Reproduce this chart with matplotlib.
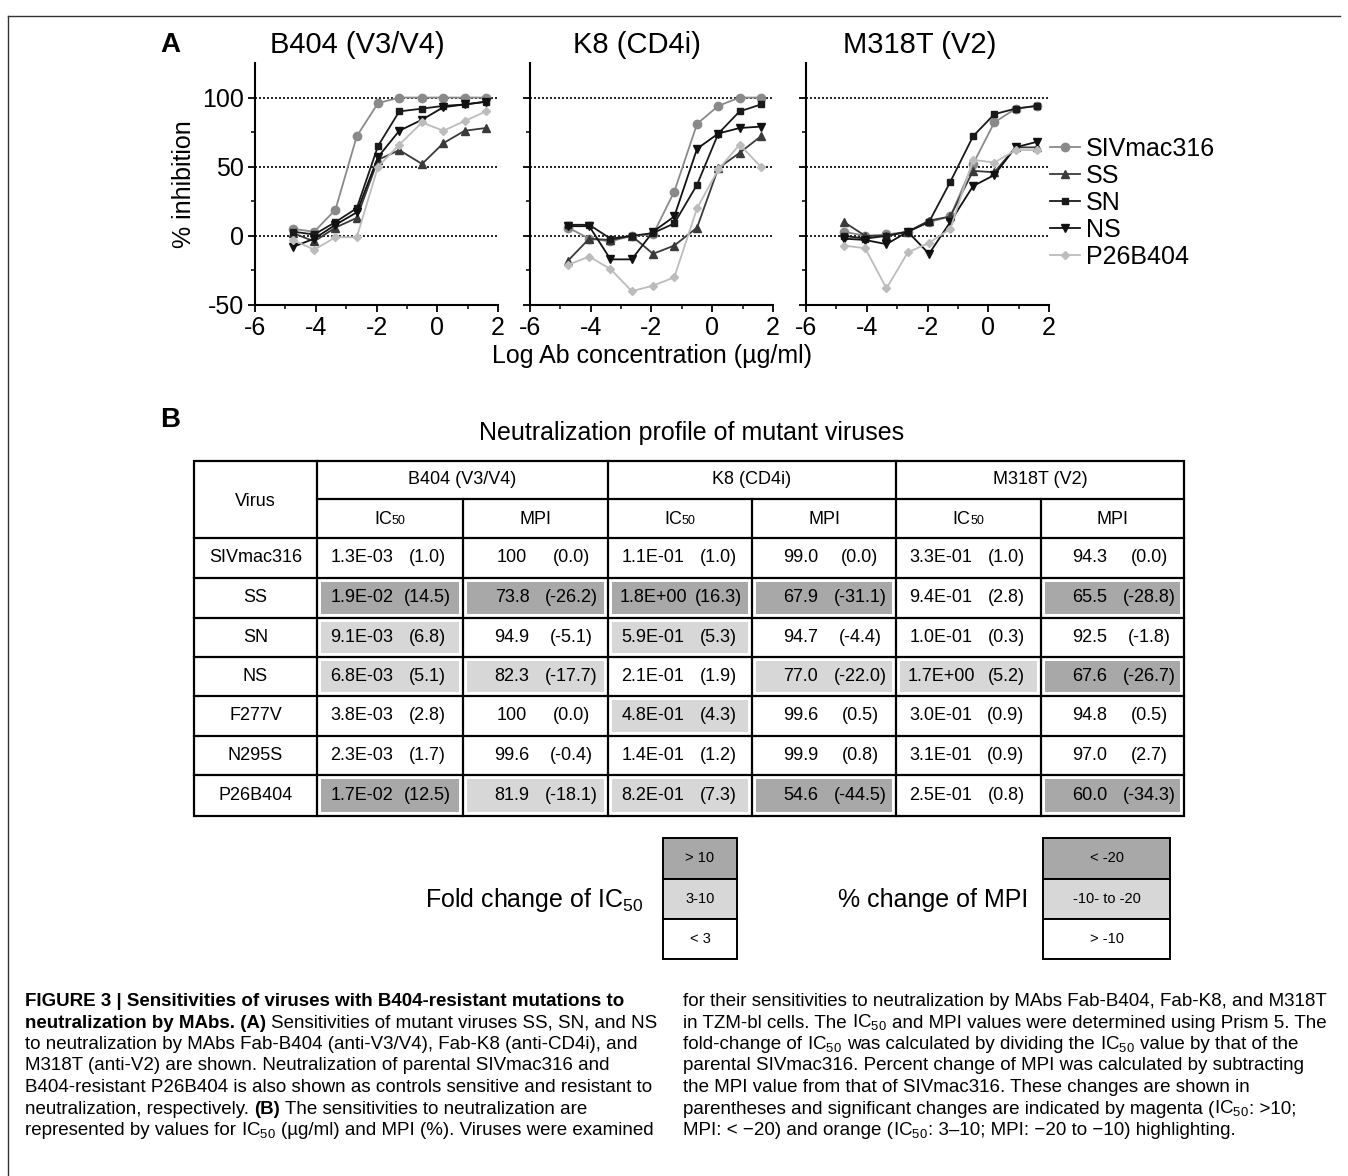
import matplotlib
matplotlib.use("Agg")
import matplotlib.pyplot as plt
from matplotlib.patches import Rectangle

plt.rcParams['font.family'] = ['Liberation Sans', 'DejaVu Sans']
plt.rcParams['mathtext.fontset'] = 'custom'
plt.rcParams['mathtext.rm'] = 'Liberation Sans'
plt.rcParams['mathtext.it'] = 'Liberation Sans:italic'
plt.rcParams['mathtext.bf'] = 'Liberation Sans:bold'
plt.rcParams['axes.unicode_minus'] = False

# -----------------------
# DATA: panel A (neutralization curves)
# -----------------------

log_conc = [-4.75, -4.05, -3.35, -2.65, -1.95, -1.25, -0.5, 0.2, 0.9, 1.6]
series_names = ["SIVmac316", "SS", "SN", "NS", "P26B404"]
panel_titles = ["B404 (V3/V4)", "K8 (CD4i)", "M318T (V2)"]

b404_siv = [5, 3, 19, 72, 96, 100, 100, 100, 100, 100]
b404_ss = [2, -4, 6, 13, 55, 62, 52, 67, 76, 78]
b404_sn = [3, 1, 10, 20, 65, 90, 92, 94, 95, 97]
b404_ns = [-8, -2, 8, 17, 57, 76, 84, 93, 95, 97]
b404_p26 = [-3, -10, -1, -1, 50, 66, 82, 76, 83, 90]

k8_siv = [6, -2, -4, 0, 1, 32, 81, 94, 100, 100]
k8_ss = [-18, -2, -3, 0, -13, -7, 6, 49, 60, 72]
k8_sn = [8, 8, -2, 0, 2, 9, 37, 74, 90, 95]
k8_ns = [7, 7, -17, -17, 3, 14, 63, 74, 78, 79]
k8_p26 = [-21, -15, -24, -40, -36, -30, 20, 48, 66, 50]

m318_siv = [3, 0, 1, 3, 10, 14, 52, 82, 92, 94]
m318_ss = [10, 0, 0, 3, 11, 14, 47, 46, 64, 64]
m318_sn = [0, -2, 0, 3, 10, 39, 72, 88, 92, 94]
m318_ns = [-2, -3, -6, 3, -13, 10, 36, 44, 64, 68]
m318_p26 = [-7, -9, -38, -12, -5, 5, 55, 53, 62, 62]

# -----------------------
# DATA: panel B (table)
# -----------------------

viruses = ["SIVmac316", "SS", "SN", "NS", "F277V", "N295S", "P26B404"]
antibodies = ["B404 (V3/V4)", "K8 (CD4i)", "M318T (V2)"]

b404_ic50 = ["1.3E-03", "1.9E-02", "9.1E-03", "6.8E-03", "3.8E-03", "2.3E-03", "1.7E-02"]
b404_fold = ["1.0", "14.5", "6.8", "5.1", "2.8", "1.7", "12.5"]
b404_mpi = ["100", "73.8", "94.9", "82.3", "100", "99.6", "81.9"]
b404_mpi_chg = ["0.0", "-26.2", "-5.1", "-17.7", "0.0", "-0.4", "-18.1"]
k8_ic50 = ["1.1E-01", "1.8E+00", "5.9E-01", "2.1E-01", "4.8E-01", "1.4E-01", "8.2E-01"]
k8_fold = ["1.0", "16.3", "5.3", "1.9", "4.3", "1.2", "7.3"]
k8_mpi = ["99.0", "67.9", "94.7", "77.0", "99.6", "99.9", "54.6"]
k8_mpi_chg = ["0.0", "-31.1", "-4.4", "-22.0", "0.5", "0.8", "-44.5"]
m318_ic50 = ["3.3E-01", "9.4E-01", "1.0E-01", "1.7E+00", "3.0E-01", "3.1E-01", "2.5E-01"]
m318_fold = ["1.0", "2.8", "0.3", "5.2", "0.9", "0.9", "0.8"]
m318_mpi = ["94.3", "65.5", "92.5", "67.6", "94.8", "97.0", "60.0"]
m318_mpi_chg = ["0.0", "-28.8", "-1.8", "-26.7", "0.5", "2.7", "-34.3"]

# highlight level: 0 none, 1 light, 2 dark
b404_ic50_hl = [0, 2, 1, 1, 0, 0, 2]
b404_mpi_hl = [0, 2, 0, 1, 0, 0, 1]
k8_ic50_hl = [0, 2, 1, 0, 1, 0, 1]
k8_mpi_hl = [0, 2, 0, 1, 0, 0, 2]
m318_ic50_hl = [0, 0, 0, 1, 0, 0, 0]
m318_mpi_hl = [0, 2, 0, 2, 0, 0, 2]

ic50_key = ["> 10", "3-10", "< 3"]
mpi_key = ["< -20", "-10- to -20", "> -10"]

# -----------------------
# FIGURE SETUP
# -----------------------

W, H = 1348, 1176
fig = plt.figure(figsize=(W / 100, H / 100), dpi=100)
renderer = fig.canvas.get_renderer()


def px_rect(left, top, width, height):
    return [left / W, 1 - (top + height) / H, width / W, height / H]


bg = fig.add_axes([0, 0, 1, 1])
bg.set_xlim(0, W)
bg.set_ylim(H, 0)
bg.axis("off")

shade = {1: "#d7d7d7", 2: "#a8a8a8"}


def rich(x, y, segs, size, ha="left"):
    items = []
    for s, kw in segs:
        gap = 0.0
        opts = dict(fontsize=size, va="baseline", ha="left")
        opts.update(kw)
        if s.startswith(" "):
            gap = 0.278 * opts["fontsize"] * 100 / 72
            s = s.lstrip(" ")
        t = bg.text(0, y, s, **opts)
        w = t.get_window_extent(renderer).width
        items.append((t, gap, w))
    total = sum(g + w for _, g, w in items)
    cx = x - total / 2 if ha == "center" else x
    for t, g, w in items:
        cx += g
        t.set_x(cx)
        cx += w


# frame of the scanned figure
bg.plot([8, 1340], [16, 16], color="#333333", lw=1.0)
bg.plot([8, 8], [16, H], color="#333333", lw=1.0)

# -----------------------
# PANEL A
# -----------------------

panel_data = [
    [b404_siv, b404_ss, b404_sn, b404_ns, b404_p26],
    [k8_siv, k8_ss, k8_sn, k8_ns, k8_p26],
    [m318_siv, m318_ss, m318_sn, m318_ns, m318_p26],
]
styles = [
    dict(color="#8a8a8a", marker="o", ms=6),
    dict(color="#3a3a3a", marker="^", ms=5.5),
    dict(color="#1a1a1a", marker="s", ms=5),
    dict(color="#111111", marker="v", ms=5.5),
    dict(color="#bcbcbc", marker="D", ms=4.5),
]
panel_lefts = [255, 530, 806]
title_x = [357, 637, 920]

axes = []
for i, left in enumerate(panel_lefts):
    ax = fig.add_axes(px_rect(left, 63, 243, 242))
    ax.set_xlim(-6, 2)
    ax.set_ylim(-50, 125)
    for yv in (0, 50, 100):
        ax.axhline(yv, color="black", ls=(0, (1.2, 1.2)), lw=1.2, zorder=1)
    for vals, name, st in zip(panel_data[i], series_names, styles):
        ax.plot(log_conc, vals, lw=1.3, label=name, zorder=3, **st)
    for side in ("top", "right"):
        ax.spines[side].set_visible(False)
    for side in ("left", "bottom"):
        ax.spines[side].set_linewidth(1.5)
    ax.set_xticks([-6, -4, -2, 0, 2])
    ax.set_xticks([-5, -3, -1, 1], minor=True)
    ax.set_yticks([-50, 0, 50, 100])
    ax.set_yticks([-25, 25, 75], minor=True)
    ax.tick_params(which="major", direction="out", length=5, width=1.3,
                   labelsize=18, pad=3)
    ax.tick_params(which="minor", direction="out", length=3, width=1.1)
    if i > 0:
        ax.tick_params(labelleft=False)
    fig.text(title_x[i] / W, 1 - 45 / H, panel_titles[i], fontsize=21,
             ha="center", va="center")
    axes.append(ax)

axes[0].set_ylabel("% inhibition", fontsize=18, labelpad=4)
fig.text(652 / W, 1 - 356 / H, "Log Ab concentration (\u00b5g/ml)",
         fontsize=18, ha="center", va="center")

handles, labels = axes[2].get_legend_handles_labels()
fig.legend(handles, labels, loc="upper left",
           bbox_to_anchor=(1050 / W, 1 - 137 / H), frameon=False,
           fontsize=18, handlelength=1.2, handletextpad=0.25,
           labelspacing=0.12, borderpad=0, borderaxespad=0)

bg.text(170, 45, "A", fontsize=20, fontweight="bold", ha="center", va="center")
bg.text(170, 420, "B", fontsize=20, fontweight="bold", ha="center", va="center")

# -----------------------
# PANEL B: TABLE
# -----------------------

bg.text(692, 433, "Neutralization profile of mutant viruses", fontsize=18,
        ha="center", va="center")

col_x = [194, 317, 463, 608, 752, 896, 1041, 1184]
row_y = [461, 499, 538, 578, 618, 657, 696, 736, 775, 816]
tsize = 13

columns = [
    (b404_ic50, b404_fold, b404_ic50_hl, "ic"),
    (b404_mpi, b404_mpi_chg, b404_mpi_hl, "mpi"),
    (k8_ic50, k8_fold, k8_ic50_hl, "ic"),
    (k8_mpi, k8_mpi_chg, k8_mpi_hl, "mpi"),
    (m318_ic50, m318_fold, m318_ic50_hl, "ic"),
    (m318_mpi, m318_mpi_chg, m318_mpi_hl, "mpi"),
]

for c, (vals, chg, hl, kind) in enumerate(columns):
    x0, x1 = col_x[c + 1], col_x[c + 2]
    for r in range(len(viruses)):
        y0, y1 = row_y[r + 2], row_y[r + 3]
        if hl[r]:
            bg.add_patch(Rectangle((x0 + 4, y0 + 4), x1 - x0 - 8, y1 - y0 - 8,
                                   facecolor=shade[hl[r]], edgecolor="none",
                                   zorder=1))
        yc = (y0 + y1) / 2
        if kind == "ic":
            bg.text(x0 + 45, yc, vals[r], fontsize=tsize, ha="center",
                    va="center", zorder=3)
            bg.text(x0 + 110, yc, "(" + chg[r] + ")", fontsize=tsize,
                    ha="center", va="center", zorder=3)
        else:
            bg.text(x0 + 49, yc, vals[r], fontsize=tsize, ha="center",
                    va="center", zorder=3)
            bg.text(x0 + 108, yc, "(" + chg[r] + ")", fontsize=tsize,
                    ha="center", va="center", zorder=3)
    hx = (x0 + x1) / 2
    if kind == "ic":
        rich(hx, 524, [("IC", {}), ("50", dict(fontsize=9))], tsize, ha="center")
    else:
        bg.text(hx, 519, "MPI", fontsize=tsize, ha="center", va="center")

for r, name in enumerate(viruses):
    bg.text((col_x[0] + col_x[1]) / 2, (row_y[r + 2] + row_y[r + 3]) / 2,
            name, fontsize=tsize, ha="center", va="center")
bg.text((col_x[0] + col_x[1]) / 2, 502, "Virus", fontsize=tsize,
        ha="center", va="center")
for k, name in enumerate(antibodies):
    bg.text((col_x[1 + 2 * k] + col_x[3 + 2 * k]) / 2, 480, name,
            fontsize=tsize, ha="center", va="center")

lw_t = 1.6
bg.add_patch(Rectangle((col_x[0], row_y[0]), col_x[-1] - col_x[0],
                       row_y[-1] - row_y[0], fill=False, lw=lw_t,
                       edgecolor="black", zorder=2))
for cx in (col_x[1], col_x[3], col_x[5]):
    bg.plot([cx, cx], [row_y[0], row_y[-1]], color="black", lw=lw_t, zorder=2)
for cx in (col_x[2], col_x[4], col_x[6]):
    bg.plot([cx, cx], [row_y[1], row_y[-1]], color="black", lw=lw_t, zorder=2)
bg.plot([col_x[1], col_x[-1]], [row_y[1], row_y[1]], color="black", lw=lw_t,
        zorder=2)
for ry in row_y[2:-1]:
    bg.plot([col_x[0], col_x[-1]], [ry, ry], color="black", lw=lw_t, zorder=2)

# -----------------------
# HIGHLIGHT KEY
# -----------------------

key_rows = [838, 879, 919, 959]
key_fill = [shade[2], shade[1], "white"]
for (bx0, bx1), labels_k in (((663, 737), ic50_key), ((1043, 1170), mpi_key)):
    for k in range(3):
        bg.add_patch(Rectangle((bx0, key_rows[k]), bx1 - bx0,
                               key_rows[k + 1] - key_rows[k],
                               facecolor=key_fill[k], edgecolor="black",
                               lw=1.4))
        bg.text((bx0 + bx1) / 2, (key_rows[k] + key_rows[k + 1]) / 2,
                labels_k[k], fontsize=10.5, ha="center", va="center")

bg.text(425, 900, "Fold change of IC$_{50}$", fontsize=18, ha="left",
        va="center")
bg.text(838, 900, "% change of MPI", fontsize=18, ha="left", va="center")

# -----------------------
# CAPTION
# -----------------------

Bd = dict(fontweight="bold")
Nr = {}
IC = ("IC$_{50}$", Nr)
left_lines = [
    [("FIGURE 3 | Sensitivities of viruses with B404-resistant mutations to", Bd)],
    [("neutralization by MAbs. (A)", Bd),
     (" Sensitivities of mutant viruses SS, SN, and NS", Nr)],
    [("to neutralization by MAbs Fab-B404 (anti-V3/V4), Fab-K8 (anti-CD4i), and", Nr)],
    [("M318T (anti-V2) are shown. Neutralization of parental SIVmac316 and", Nr)],
    [("B404-resistant P26B404 is also shown as controls sensitive and resistant to", Nr)],
    [("neutralization, respectively.", Nr), (" (B)", Bd),
     (" The sensitivities to neutralization are", Nr)],
    [("represented by values for", Nr), (" IC$_{50}$", Nr),
     (" (\u00b5g/ml) and MPI (%). Viruses were examined", Nr)],
]
right_lines = [
    [("for their sensitivities to neutralization by MAbs Fab-B404, Fab-K8, and M318T", Nr)],
    [("in TZM-bl cells. The", Nr), (" IC$_{50}$", Nr),
     (" and MPI values were determined using Prism 5. The", Nr)],
    [("fold-change of", Nr), (" IC$_{50}$", Nr),
     (" was calculated by dividing the", Nr), (" IC$_{50}$", Nr),
     (" value by that of the", Nr)],
    [("parental SIVmac316. Percent change of MPI was calculated by subtracting", Nr)],
    [("the MPI value from that of SIVmac316. These changes are shown in", Nr)],
    [("parentheses and significant changes are indicated by magenta (", Nr),
     IC, (": >10;", Nr)],
    [("MPI: < \u221220) and orange (", Nr), IC,
     (": 3\u201310; MPI: \u221220 to \u221210) highlighting.", Nr)],
]

csize = 13.5
for k, segs in enumerate(left_lines):
    rich(25, 1006 + k * 21.5, segs, csize)
for k, segs in enumerate(right_lines):
    rich(683, 1006 + k * 21.5, segs, csize)

fig.savefig("out.png", dpi=100)
